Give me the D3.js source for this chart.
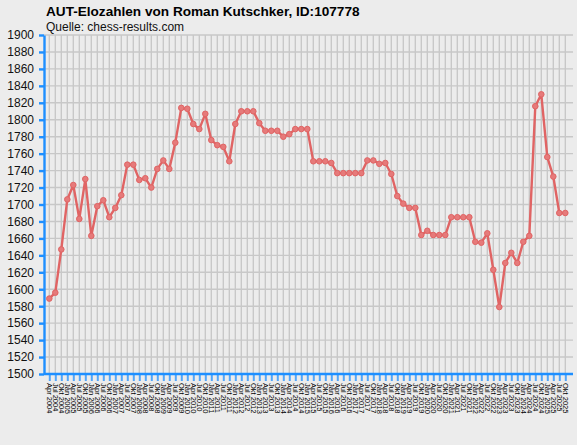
<!DOCTYPE html>
<html>
<head>
<meta charset="utf-8">
<script src="https://cdn.jsdelivr.net/npm/d3@7"></script>
<style>
  body { margin: 0; background: #ececec; }
  svg { display: block; font-family: "Liberation Sans", Arial, sans-serif; }
</style>
</head>
<body>
<svg id="chart" width="577" height="445"></svg>
<script>
// rating lists (one label per point)
var dates = [
  "Apr 2004","Jul 2004","Okt 2004",
  "Jan 2005","Apr 2005","Jul 2005","Okt 2005",
  "Jan 2006","Apr 2006","Jul 2006","Okt 2006",
  "Jan 2007","Apr 2007","Jul 2007","Okt 2007",
  "Jan 2008","Apr 2008","Jul 2008","Okt 2008",
  "Jan 2009","Apr 2009","Jul 2009","Okt 2009",
  "Jan 2010","Apr 2010","Jul 2010","Okt 2010",
  "Jan 2011","Apr 2011","Jul 2011","Okt 2011",
  "Jan 2012","Apr 2012","Jul 2012","Okt 2012",
  "Jan 2013","Apr 2013","Jul 2013","Okt 2013",
  "Jan 2014","Apr 2014","Jul 2014","Okt 2014",
  "Jan 2015","Apr 2015","Jul 2015","Okt 2015",
  "Jan 2016","Apr 2016","Jul 2016","Okt 2016",
  "Jan 2017","Apr 2017","Jul 2017","Okt 2017",
  "Jan 2018","Apr 2018","Jul 2018","Okt 2018",
  "Jan 2019","Apr 2019","Jul 2019","Okt 2019",
  "Jan 2020","Apr 2020","Jul 2020","Okt 2020",
  "Jan 2021","Apr 2021","Jul 2021","Okt 2021",
  "Jan 2022","Apr 2022","Jul 2022","Okt 2022",
  "Jan 2023","Apr 2023","Jul 2023","Okt 2023",
  "Jan 2024","Apr 2024","Jul 2024","Okt 2024",
  "Jan 2025","Apr 2025","Jul 2025","Okt 2025"
];

var elo = [
  1589,1596,1647,1706,1723,1683,1730,1663,1698,1705,
  1685,1696,1711,1747,1747,1729,1731,1720,1742,1752,
  1742,1773,1814,1813,1795,1789,1807,1776,1770,1768,
  1751,1795,1810,1810,1810,1796,1787,1787,1787,1780,
  1783,1789,1789,1789,1751,1751,1751,1749,1737,1737,
  1737,1737,1737,1752,1752,1748,1749,1736,1710,1701,
  1696,1696,1664,1669,1664,1664,1664,1685,1685,1685,
  1685,1656,1655,1666,1623,1579,1631,1643,1631,1656,
  1663,1816,1830,1756,1733,1690,1690
];

var yTicks = [1500,1520,1540,1560,1580,1600,1620,1640,1660,1680,1700,
              1720,1740,1760,1780,1800,1820,1840,1860,1880,1900];

var title = "AUT-Elozahlen von Roman Kutschker, ID:107778";
var subtitle = "Quelle: chess-results.com";

var svg = d3.select("#chart");
var axisBlue = "#1e8fff";
var lineRed = "#e06464";

var plotLeft = 44, plotRight = 573, plotTop = 35, plotBottom = 374;

var x = d3.scalePoint()
    .domain(dates)
    .range([49.3, 565.3]);

var y = d3.scaleLinear()
    .domain([1500, 1900])
    .range([plotBottom, plotTop]);

svg.append("rect")
    .attr("width", 577).attr("height", 445)
    .attr("fill", "#ececec");

// grid
var grid = svg.append("g");
grid.selectAll("line.h")
    .data(yTicks)
  .enter().append("line")
    .attr("class", "h")
    .attr("x1", plotLeft).attr("x2", plotRight)
    .attr("y1", function(d) { return y(d); })
    .attr("y2", function(d) { return y(d); })
    .attr("stroke", "#c8c8c8")
    .attr("stroke-width", 1.4);

grid.selectAll("line.v")
    .data(dates)
  .enter().append("line")
    .attr("class", "v")
    .attr("x1", function(d) { return x(d); })
    .attr("x2", function(d) { return x(d); })
    .attr("y1", plotTop).attr("y2", plotBottom)
    .attr("stroke", "#c8c8c8")
    .attr("stroke-width", 1.4);

// y axis
var yAxis = svg.append("g")
    .attr("transform", "translate(" + plotLeft + ",0)")
    .call(d3.axisLeft(y).tickValues(yTicks).tickFormat(d3.format("d"))
      .tickSize(5).tickSizeOuter(0).tickPadding(5));
yAxis.select(".domain").attr("stroke", axisBlue).attr("stroke-width", 2.4);
yAxis.selectAll(".tick line").attr("stroke", axisBlue).attr("stroke-width", 2.4);
yAxis.selectAll(".tick text")
    .attr("fill", "#111")
    .style("font-size", "12px")
    .style("font-family", "'Liberation Sans', Arial, sans-serif");

// x axis
var xAxis = svg.append("g")
    .attr("transform", "translate(0," + plotBottom + ")")
    .call(d3.axisBottom(x).tickSize(7).tickSizeOuter(0).tickPadding(2));
xAxis.select(".domain").attr("stroke", axisBlue).attr("stroke-width", 2.4)
    .attr("d", "M" + plotLeft + ",0H" + plotRight);
xAxis.selectAll(".tick line").attr("stroke", axisBlue).attr("stroke-width", 2).attr("opacity", 0.75);
xAxis.selectAll(".tick text")
    .attr("fill", "#000")
    .attr("text-anchor", "start")
    .attr("transform", "rotate(90)")
    .attr("x", 9).attr("y", 0).attr("dy", "0.32em")
    .style("font-size", "7.5px")
    .style("font-family", "'Liberation Sans', Arial, sans-serif");

// line + markers
var line = d3.line()
    .x(function(d, i) { return x(dates[i]); })
    .y(function(d) { return y(d); });

svg.append("path")
    .datum(elo)
    .attr("fill", "none")
    .attr("stroke", lineRed)
    .attr("stroke-width", 2.4)
    .attr("stroke-linejoin", "round")
    .attr("d", line);

svg.selectAll("circle.pt")
    .data(elo)
  .enter().append("circle")
    .attr("class", "pt")
    .attr("cx", function(d, i) { return x(dates[i]); })
    .attr("cy", function(d) { return y(d); })
    .attr("r", 2.8)
    .attr("fill", "#e67a7a")
    .attr("stroke", lineRed)
    .attr("stroke-width", 1);

// titles
svg.append("text")
    .attr("x", 46).attr("y", 16)
    .attr("font-weight", "bold")
    .style("font-size", "13.6px")
    .attr("fill", "#000")
    .text(title);

svg.append("text")
    .attr("x", 46).attr("y", 31)
    .style("font-size", "12px")
    .attr("fill", "#111")
    .text(subtitle);
</script>
</body>
</html>
